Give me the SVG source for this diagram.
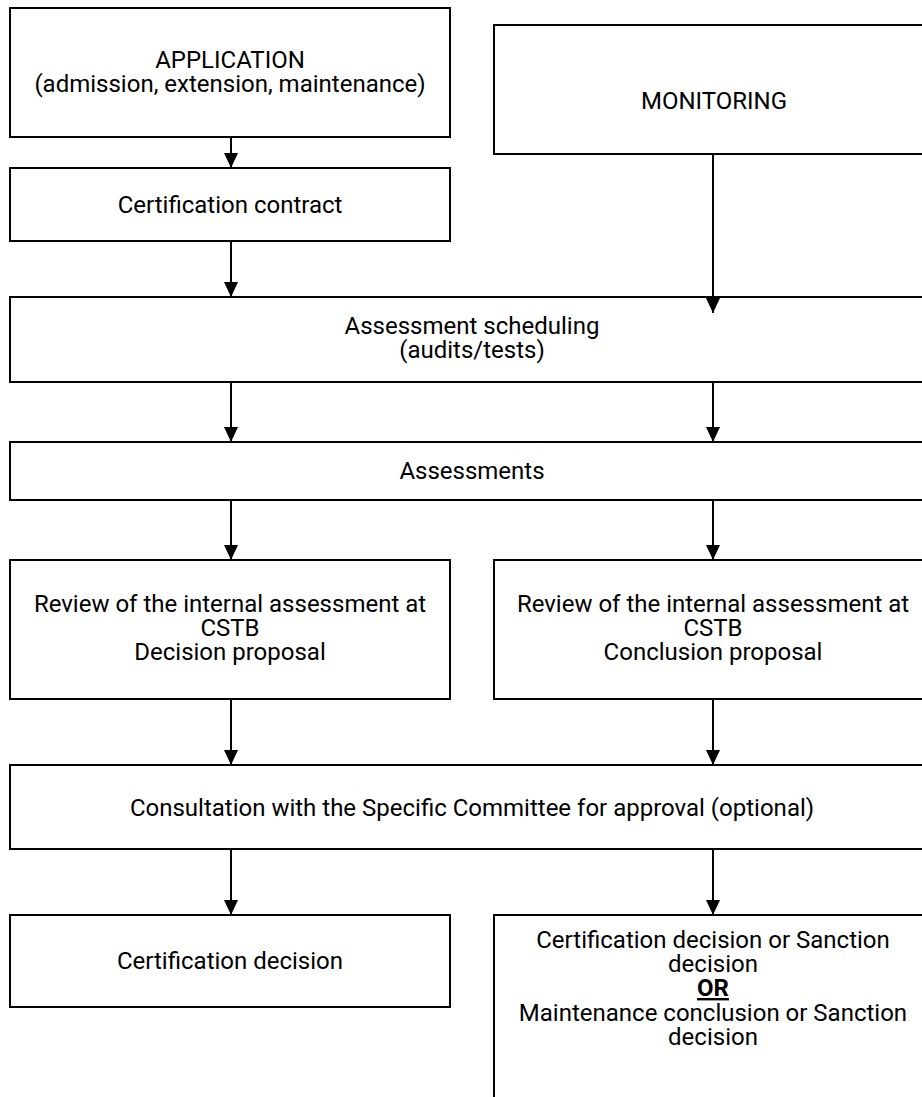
<svg xmlns="http://www.w3.org/2000/svg" width="922" height="1097" viewBox="0 0 922 1097">
<defs>
<style>
.box{fill:#fff;stroke:#000;stroke-width:2}
.t{font-family:Roboto,"Liberation Sans",sans-serif;font-size:24px;fill:#000;text-anchor:middle}
.c{stroke:#000;stroke-width:2;fill:none;marker-end:url(#ah)}
</style>
<marker id="ah" markerWidth="15" markerHeight="14" refX="15" refY="7" orient="auto" markerUnits="userSpaceOnUse" viewBox="0 0 15 14">
<path d="M0,0 L15,7 L0,14 Z" fill="#000"/>
</marker>
</defs>
<rect width="922" height="1097" fill="#fff"/>
<g id="application">
<rect class="box" x="10" y="8" width="440" height="129"/>
<text class="t" x="230" y="68">APPLICATION</text>
<text class="t" x="230" y="92">(admission, extension, maintenance)</text>
</g>
<g id="contract">
<rect class="box" x="10" y="168" width="440" height="73"/>
<text class="t" x="230" y="213">Certification contract</text>
</g>
<g id="monitoring">
<rect class="box" x="494" y="25" width="440" height="129"/>
<text class="t" x="714" y="109">MONITORING</text>
</g>
<g id="scheduling">
<rect class="box" x="10" y="297" width="925" height="85"/>
<text class="t" x="472" y="334">Assessment scheduling</text>
<text class="t" x="472" y="358">(audits/tests)</text>
</g>
<g id="assessments">
<rect class="box" x="10" y="442" width="925" height="58"/>
<text class="t" x="472" y="479">Assessments</text>
</g>
<g id="review-left">
<rect class="box" x="10" y="560" width="440" height="139"/>
<text class="t" x="230" y="612">Review of the internal assessment at</text>
<text class="t" x="230" y="636">CSTB</text>
<text class="t" x="230" y="660">Decision proposal</text>
</g>
<g id="review-right">
<rect class="box" x="494" y="560" width="440" height="139"/>
<text class="t" x="713" y="612">Review of the internal assessment at</text>
<text class="t" x="713" y="636">CSTB</text>
<text class="t" x="713" y="660">Conclusion proposal</text>
</g>
<g id="consultation">
<rect class="box" x="10" y="765" width="925" height="84"/>
<text class="t" x="472" y="816">Consultation with the Specific Committee for approval (optional)</text>
</g>
<g id="decision-left">
<rect class="box" x="10" y="915" width="440" height="92"/>
<text class="t" x="230" y="969">Certification decision</text>
</g>
<g id="decision-right">
<rect class="box" x="494" y="915" width="440" height="200"/>
<text class="t" x="713" y="948">Certification decision or Sanction</text>
<text class="t" x="713" y="972">decision</text>
<text class="t" x="713" y="996" font-weight="bold" text-decoration="underline">OR</text>
<text class="t" x="713" y="1021">Maintenance conclusion or Sanction</text>
<text class="t" x="713" y="1045">decision</text>
</g>
<g id="connectors">
<line class="c" x1="231" y1="137" x2="231" y2="168"/>
<line class="c" x1="231" y1="241" x2="231" y2="297"/>
<line class="c" x1="713" y1="154" x2="713" y2="313"/>
<line class="c" x1="231" y1="382" x2="231" y2="442"/>
<line class="c" x1="713" y1="382" x2="713" y2="442"/>
<line class="c" x1="231" y1="500" x2="231" y2="560"/>
<line class="c" x1="713" y1="500" x2="713" y2="560"/>
<line class="c" x1="231" y1="699" x2="231" y2="765"/>
<line class="c" x1="713" y1="699" x2="713" y2="765"/>
<line class="c" x1="231" y1="849" x2="231" y2="915"/>
<line class="c" x1="713" y1="849" x2="713" y2="915"/>
</g>
</svg>
